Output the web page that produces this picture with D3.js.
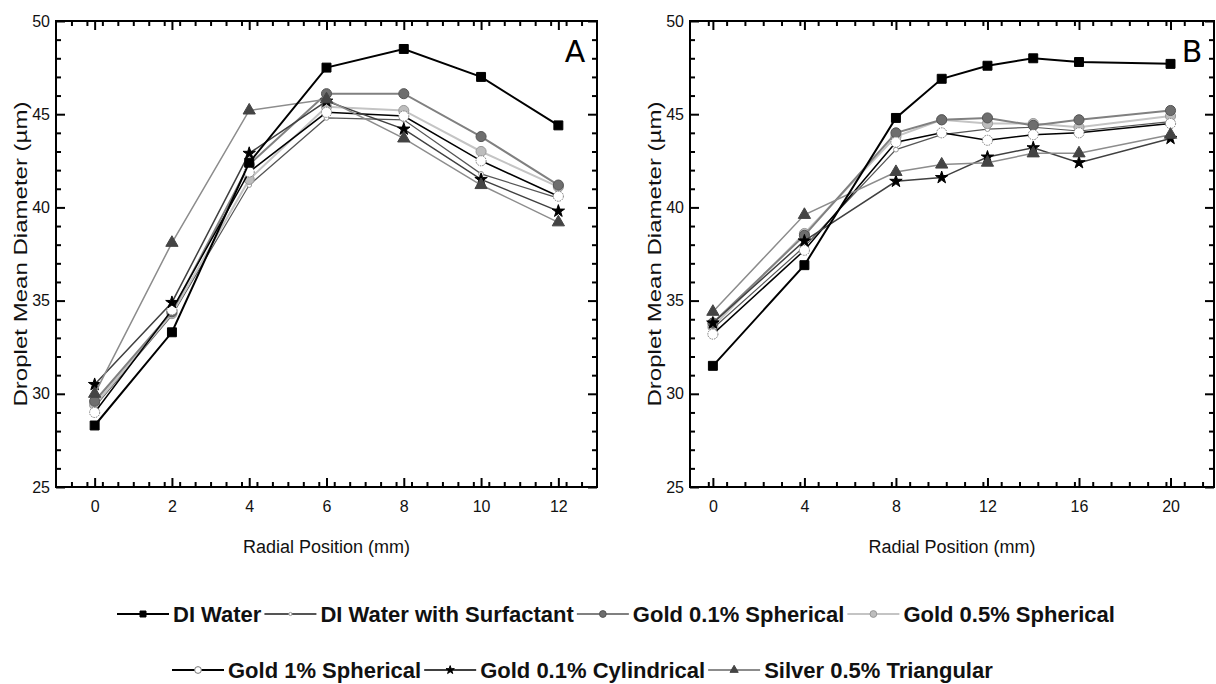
<!DOCTYPE html>
<html>
<head>
<meta charset="utf-8">
<script src="https://cdn.jsdelivr.net/npm/d3@7"></script>
<style>
  body { margin: 0; background: #fff; }
  svg { display: block; font-family: "Liberation Sans", Arial, sans-serif; }
</style>
</head>
<body>
<svg id="chart" width="1216" height="684"></svg>
<script>
// series names (legend order)
var seriesNames = ["DI Water", "DI Water with Surfactant", "Gold 0.1% Spherical",
  "Gold 0.5% Spherical", "Gold 1% Spherical", "Gold 0.1% Cylindrical", "Silver 0.5% Triangular"];

// panel A - radial positions (mm)
var xA = [0, 2, 4, 6, 8, 10, 12];
var aDIWater    = [28.3, 33.3, 42.4, 47.5, 48.5, 47.0, 44.4];
var aSurfactant = [29.3, 34.2, 41.2, 44.8, 44.7, 41.8, 40.5];
var aGold01Sph  = [29.6, 34.4, 42.3, 46.1, 46.1, 43.8, 41.2];
var aGold05Sph  = [29.4, 34.3, 41.5, 45.4, 45.2, 43.0, 41.1];
var aGold1Sph   = [29.0, 34.5, 41.9, 45.1, 44.9, 42.5, 40.6];
var aGold01Cyl  = [30.5, 34.9, 42.9, 45.7, 44.2, 41.5, 39.8];
var aSilver     = [30.0, 38.1, 45.2, 45.8, 43.7, 41.2, 39.2];

// panel B
var xB = [0, 4, 8, 10, 12, 14, 16, 20];
var bDIWater    = [31.5, 36.9, 44.8, 46.9, 47.6, 48.0, 47.8, 47.7];
var bSurfactant = [33.5, 37.9, 43.1, 43.9, 44.2, 44.3, 44.1, 44.6];
var bGold01Sph  = [33.8, 38.5, 44.0, 44.7, 44.8, 44.4, 44.7, 45.2];
var bGold05Sph  = [33.6, 38.6, 43.8, 44.7, 44.5, 44.5, 44.3, 44.9];
var bGold1Sph   = [33.2, 37.7, 43.5, 44.0, 43.6, 43.9, 44.0, 44.5];
var bGold01Cyl  = [33.8, 38.2, 41.4, 41.6, 42.7, 43.2, 42.4, 43.7];
var bSilver     = [34.4, 39.6, 41.9, 42.3, 42.4, 42.9, 42.9, 43.9];

var yTicks = [25, 30, 35, 40, 45, 50];
var xTicksA = [0, 2, 4, 6, 8, 10, 12];
var xTicksB = [0, 4, 8, 12, 16, 20];

// styles per series
var styles = [
  {line: "#000", lw: 2, sym: d3.symbolSquare, size: 80, fill: "#000", stroke: "#000"},
  {line: "#555", lw: 1.2, sym: d3.symbolCircle, size: 18, fill: "#fff", stroke: "#999"},
  {line: "#808080", lw: 2, sym: d3.symbolCircle, size: 80, fill: "#6e6e6e", stroke: "#555"},
  {line: "#c4c4c4", lw: 2, sym: d3.symbolCircle, size: 80, fill: "#bdbdbd", stroke: "#999"},
  {line: "#000", lw: 1.5, sym: d3.symbolCircle, size: 80, fill: "#fff", stroke: "#777", dash: "1.5,1"},
  {line: "#404040", lw: 1.5, sym: d3.symbolStar, size: 48, fill: "#000", stroke: "#000"},
  {line: "#8c8c8c", lw: 1.5, sym: d3.symbolTriangle, size: 65, fill: "#444", stroke: "#444"}
];
var drawOrder = [1, 3, 2, 4, 5, 6, 0];

var svg = d3.select("#chart");

function drawPanel(opt) {
  var x = d3.scaleLinear().domain(opt.xDomain).range([opt.left, opt.right]);
  var y = d3.scaleLinear().domain([25, 50]).range([487, 21]);
  var g = svg.append("g");

  var xMinor = d3.range(opt.xDomain[0], opt.xDomain[1] + 0.001, opt.minor)
    .map(function(v){ return Math.round(v * 100) / 100; })
    .filter(function(v){ return opt.xTicks.indexOf(v) < 0 && v > opt.xDomain[0] && v < opt.xDomain[1]; });
  var yMinor = d3.range(26, 50).filter(function(v){ return v % 5 !== 0; });

  // bottom / top axes
  g.append("g").attr("transform", "translate(0,487)")
    .call(d3.axisBottom(x).tickValues(opt.xTicks).tickSize(-9).tickPadding(14).tickFormat(d3.format("d")));
  g.append("g").attr("transform", "translate(0,487)")
    .call(d3.axisBottom(x).tickValues(xMinor).tickSize(-5).tickFormat(""));
  g.append("g").attr("transform", "translate(0,21)")
    .call(d3.axisTop(x).tickValues(opt.xTicks).tickSize(-9).tickFormat(""));
  g.append("g").attr("transform", "translate(0,21)")
    .call(d3.axisTop(x).tickValues(xMinor).tickSize(-5).tickFormat(""));
  // left / right axes
  g.append("g").attr("transform", "translate(" + opt.left + ",0)")
    .call(d3.axisLeft(y).tickValues(yTicks).tickSize(-9).tickPadding(6));
  g.append("g").attr("transform", "translate(" + opt.left + ",0)")
    .call(d3.axisLeft(y).tickValues(yMinor).tickSize(-5).tickFormat(""));
  g.append("g").attr("transform", "translate(" + opt.right + ",0)")
    .call(d3.axisRight(y).tickValues(yTicks).tickSize(-9).tickFormat(""));
  g.append("g").attr("transform", "translate(" + opt.right + ",0)")
    .call(d3.axisRight(y).tickValues(yMinor).tickSize(-5).tickFormat(""));

  g.selectAll(".domain").remove();
  g.selectAll(".tick line").attr("stroke", "#000").attr("stroke-width", 2);
  g.selectAll(".tick text").attr("font-size", "16px").attr("fill", "#111")
    .attr("font-family", "Liberation Sans, Arial, sans-serif");

  g.append("rect").attr("x", opt.left).attr("y", 21)
    .attr("width", opt.right - opt.left).attr("height", 466)
    .attr("fill", "none").attr("stroke", "#000").attr("stroke-width", 2);

  var line = d3.line().x(function(d){ return x(d[0]); }).y(function(d){ return y(d[1]); });
  drawOrder.forEach(function(i) {
    var st = styles[i];
    var pts = opt.xs.map(function(v, k){ return [v, opt.series[i][k]]; });
    g.append("path").datum(pts).attr("d", line)
      .attr("fill", "none").attr("stroke", st.line).attr("stroke-width", st.lw);
    g.selectAll(null).data(pts).enter().append("path")
      .attr("transform", function(d){ return "translate(" + x(d[0]) + "," + y(d[1]) + ")"; })
      .attr("d", d3.symbol().type(st.sym).size(st.size))
      .attr("fill", st.fill).attr("stroke", st.stroke).attr("stroke-width", 1)
      .attr("stroke-dasharray", st.dash || null);
  });

  // axis titles
  g.append("text").attr("x", (opt.left + opt.right) / 2).attr("y", 553)
    .attr("text-anchor", "middle").attr("font-size", "18px").attr("fill", "#111")
    .text("Radial Position (mm)");
  g.append("text").attr("transform", "translate(" + opt.ytx + ",254) rotate(-90)")
    .attr("text-anchor", "middle").attr("font-size", "19px").attr("fill", "#111")
    .attr("textLength", 305).attr("lengthAdjust", "spacingAndGlyphs")
    .text("Droplet Mean Diameter (\u00b5m)");
  g.append("text").attr("x", opt.right - 22).attr("y", 62)
    .attr("text-anchor", "middle").attr("font-size", "30px").attr("fill", "#000")
    .attr("font-family", "DejaVu Sans, sans-serif")
    .text(opt.label);
}

drawPanel({
  left: 56, right: 597, xDomain: [-1, 13], xTicks: xTicksA, minor: 0.4,
  xs: xA, series: [aDIWater, aSurfactant, aGold01Sph, aGold05Sph, aGold1Sph, aGold01Cyl, aSilver],
  ytx: 27, label: "A"
});
drawPanel({
  left: 690, right: 1214, xDomain: [-1, 21.9], xTicks: xTicksB, minor: 0.8,
  xs: xB, series: [bDIWater, bSurfactant, bGold01Sph, bGold05Sph, bGold1Sph, bGold01Cyl, bSilver],
  ytx: 661, label: "B"
});

// legend
var rows = [{start: 117, y: 614, items: [0, 1, 2, 3]}, {start: 172, y: 670, items: [4, 5, 6]}];
var lg = svg.append("g");
rows.forEach(function(r) {
  var cx = r.start;
  r.items.forEach(function(i) {
    var st = styles[i];
    lg.append("line").attr("x1", cx).attr("x2", cx + 52).attr("y1", r.y).attr("y2", r.y)
      .attr("stroke", st.line).attr("stroke-width", Math.max(st.lw, 2));
    lg.append("path").attr("transform", "translate(" + (cx + 26) + "," + r.y + ")")
      .attr("d", d3.symbol().type(st.sym).size(st.size * 0.45))
      .attr("fill", st.fill).attr("stroke", st.stroke).attr("stroke-width", 1);
    var t = lg.append("text").attr("x", cx + 56).attr("y", r.y + 8)
      .attr("font-size", "22px").attr("font-weight", "bold").attr("fill", "#111")
      .text(seriesNames[i]);
    cx = cx + 56 + t.node().getComputedTextLength() + 3;
  });
});
</script>
</body>
</html>
